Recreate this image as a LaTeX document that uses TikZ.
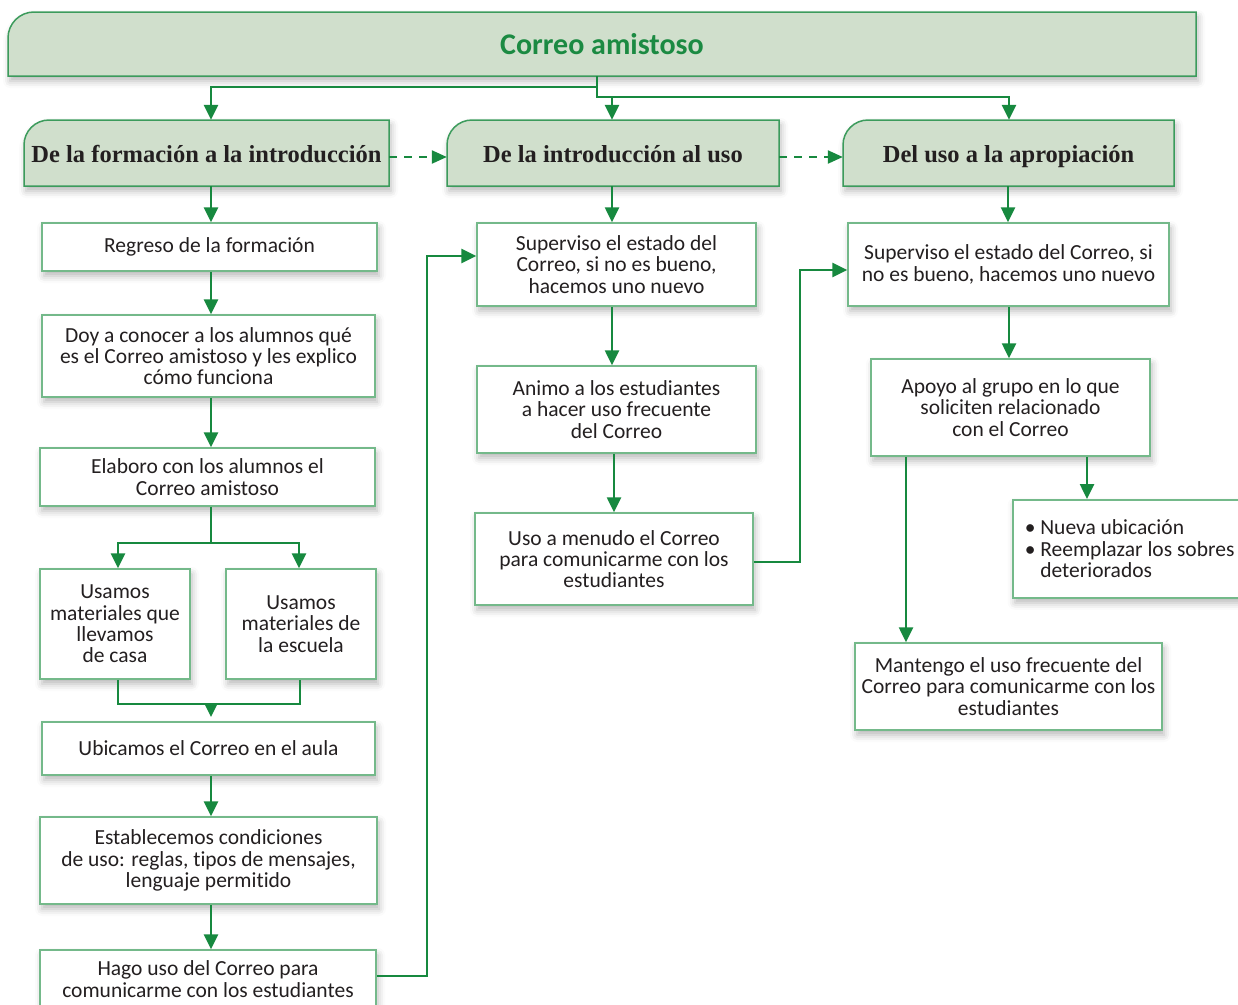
\documentclass[tikz,border=0pt]{standalone}
\usepackage{fontspec}
\setmainfont{Carlito}[Ligatures=NoCommon]
\newfontfamily\hdrfont{Liberation Serif}
\usetikzlibrary{arrows.meta,calc,shadows.blur}
\definecolor{connc}{HTML}{17893F}
\definecolor{boxline}{HTML}{74B98A}
\definecolor{hdrline}{HTML}{3C9B5C}
\definecolor{hdrfill}{HTML}{D0DFCC}
\definecolor{txtc}{HTML}{231F20}
\definecolor{titlec}{HTML}{1B8A42}
\tikzset{
  shad/.style={blur shadow={shadow xshift=2pt, shadow yshift=-5pt, shadow blur radius=7pt, shadow opacity=28}},
  box/.style={draw=boxline, line width=1.5pt, fill=white, align=center, inner xsep=1pt, inner ysep=1pt,
    font=\fontsize{21.5}{21.3}\selectfont, text=txtc, shad},
  hdrshape/.style={draw=hdrline, line width=1.5pt, fill=hdrfill, shad},
  hdrtext/.style={inner sep=0pt, text height=24pt, text depth=5pt, font=\hdrfont\bfseries\fontsize{24.5}{28}\selectfont, text=txtc},
  conn/.style={draw=connc, line width=2.6pt, -{Triangle[length=15pt,width=14pt]}},
  plainconn/.style={draw=connc, line width=2.6pt},
  smallconn/.style={draw=connc, line width=2.6pt, -{Triangle[length=12pt,width=11pt]}},
  dconn/.style={draw=connc, line width=2.3pt, dash pattern=on 8pt off 7pt, -{Triangle[length=15pt,width=13pt]}},
}
\begin{document}
\begin{tikzpicture}[x=1pt,y=-1pt]
\useasboundingbox (0,0) rectangle (1238,1004);
\clip (0,0) rectangle (1238,1004);

% title
\draw[hdrshape] (8,76) -- (8,50) [rounded corners=26pt] -- (8,12) -- (300,12) [sharp corners] -- (1196,12) -- (1196,76) -- cycle;
\node[inner sep=0pt, minimum width=1188pt, minimum height=64pt, font=\bfseries\fontsize{30}{32}\selectfont, text=titlec] (title) at (602,44) {\raisebox{-1pt}{Correo amistoso}};

% headers
\draw[hdrshape] (24,186) -- (24,150) [rounded corners=25pt] -- (24,120) -- (200,120) [sharp corners] -- (389,120) -- (389,186) -- cycle;
\node[hdrtext, minimum width=365pt, minimum height=66pt] (H1) at (206.5,153) {De la formación a la introducción};
\draw[hdrshape] (447,186) -- (447,150) [rounded corners=25pt] -- (447,120) -- (600,120) [sharp corners] -- (779,120) -- (779,186) -- cycle;
\node[hdrtext, minimum width=332pt, minimum height=66pt] (H2) at (613,153) {De la introducción al uso};
\draw[hdrshape] (843,186) -- (843,150) [rounded corners=25pt] -- (843,120) -- (1000,120) [sharp corners] -- (1174,120) -- (1174,186) -- cycle;
\node[hdrtext, minimum width=331pt, minimum height=66pt] (H3) at (1008.5,153) {Del uso a la apropiación};

% column 1
\node[box, minimum width=335pt, minimum height=48pt] (a1) at (209.5,247) {Regreso de la formación};
\node[box, minimum width=333pt, minimum height=82pt] (a2) at (208.5,356) {Doy a conocer a los alumnos qué\\es el Correo amistoso y les explico\\cómo funciona};
\node[box, minimum width=335pt, minimum height=58pt] (a3) at (207.5,477) {Elaboro con los alumnos el\\Correo amistoso};
\node[box, minimum width=150pt, minimum height=110pt] (a4) at (115,624) {Usamos\\materiales que\\llevamos\\de casa};
\node[box, minimum width=150pt, minimum height=110pt] (a5) at (301,624) {Usamos\\materiales de\\la escuela};
\node[box, minimum width=333pt, minimum height=53pt] (a6) at (208.5,748.5) {Ubicamos el Correo en el aula};
\node[box, minimum width=337pt, minimum height=87pt] (a7) at (208.5,860.5) {Establecemos condiciones\\de uso: reglas, t\kern0pt ipos de mensajes,\\lenguaje permit\kern0pt ido};
\node[box, minimum width=336pt, minimum height=58pt] (a8) at (208,979) {Hago uso del Correo para\\comunicarme con los estudiantes};

% column 2
\node[box, minimum width=279pt, minimum height=83pt] (b1) at (616.5,264.5) {Superviso el estado del\\Correo, si no es bueno,\\hacemos uno nuevo};
\node[box, minimum width=279pt, minimum height=87pt] (b2) at (616.5,409.5) {Animo a los estudiantes\\a hacer uso frecuente\\del Correo};
\node[box, minimum width=278pt, minimum height=92pt] (b3) at (614,559) {Uso a menudo el Correo\\para comunicarme con los\\estudiantes};

% column 3
\node[box, minimum width=321pt, minimum height=83pt] (c1) at (1008.5,264.5) {Superviso el estado del Correo, si\\no es bueno, hacemos uno nuevo};
\node[box, minimum width=279pt, minimum height=97pt] (c2) at (1010.5,407.5) {Apoyo al grupo en lo que\\soliciten relacionado\\con el Correo};
\node[box, anchor=north west, minimum height=98pt, text width=250pt, align=flush left, inner xsep=12pt] (c3) at (1012,499) {\textbullet\ Nueva ubicación\\\textbullet\ Reemplazar los sobres\\\phantom{\textbullet\ }deteriorados};
\node[box, minimum width=307pt, minimum height=87pt] (c4) at (1008.5,686.5) {Mantengo el uso frecuente del\\Correo para comunicarme con los\\estudiantes};

% top connectors
\coordinate (j0) at (597,87);
\coordinate (j1) at (597,97);
\draw[conn] (597,0 |- title.south) -- (j0) -| (211,0 |- H1.north);
\draw[conn] (j0) -- (j1) -| (1009,0 |- H3.north);
\draw[conn] (612,97) -- (612,0 |- H2.north);

% dashed
\draw[dconn] ($(H1.east)+(0,4)$) -- ($(H2.west)+(0,4)$);
\draw[dconn] ($(H2.east)+(0,4)$) -- ($(H3.west)+(0,4)$);

% column 1 connectors
\draw[conn] (211,0 |- H1.south) -- (211,0 |- a1.north);
\draw[conn] (211,0 |- a1.south) -- (211,0 |- a2.north);
\draw[conn] (211,0 |- a2.south) -- (211,0 |- a3.north);
\coordinate (s1) at (211,543);
\draw[conn] (211,0 |- a3.south) -- (s1) -| (118,0 |- a4.north);
\draw[conn] (s1) -| (299,0 |- a5.north);
\coordinate (m1) at (211,704);
\draw[plainconn] (118,0 |- a4.south) |- (m1) -| (300,0 |- a5.south);
\draw[smallconn] (m1) -- (211,717);
\draw[conn] (211,0 |- a6.south) -- (211,0 |- a7.north);
\draw[conn] (211,0 |- a7.south) -- (211,0 |- a8.north);
\draw[conn] (a8.east |- 0,976) -- (427,976) |- (b1.west |- 0,256);

% column 2 connectors
\draw[conn] (612,0 |- H2.south) -- (612,0 |- b1.north);
\draw[conn] (612,0 |- b1.south) -- (612,0 |- b2.north);
\draw[conn] (614,0 |- b2.south) -- (614,0 |- b3.north);
\draw[conn] (b3.east |- 0,562) -- (800,562) |- (c1.west |- 0,270);

% column 3 connectors
\draw[conn] (1008,0 |- H3.south) -- (1008,0 |- c1.north);
\draw[conn] (1009,0 |- c1.south) -- (1009,0 |- c2.north);
\draw[conn] (1087,0 |- c2.south) -- (1087,0 |- c3.north);
\draw[conn] (906,0 |- c2.south) -- (906,0 |- c4.north);
\end{tikzpicture}
\end{document}
